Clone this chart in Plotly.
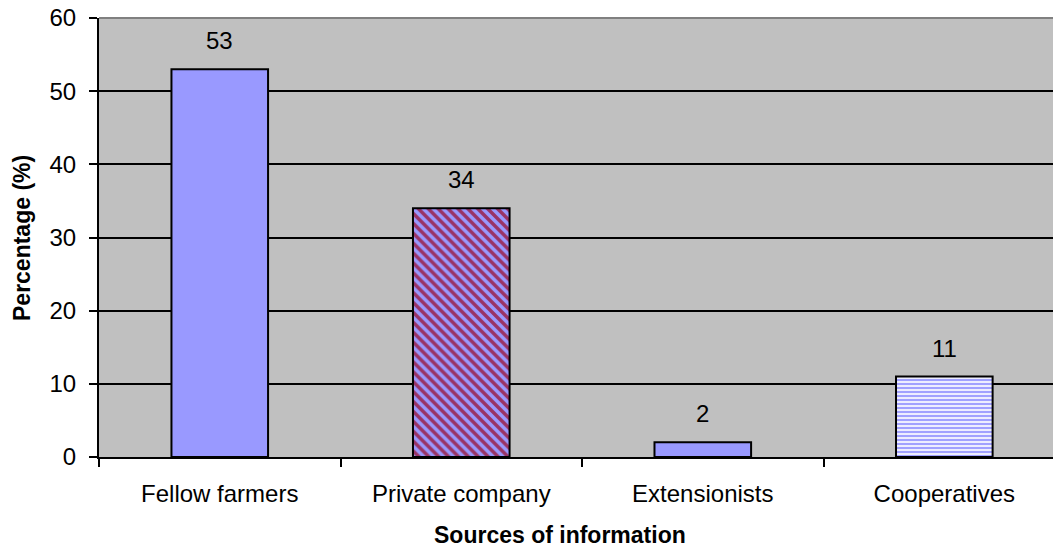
import plotly.graph_objects as go

categories = ["Fellow farmers", "Private company", "Extensionists", "Cooperatives"]
values = [53, 34, 2, 11]
labels = ["53", "34", "2", "11"]

pattern_shapes = ["", "\\", "", "-"]
pattern_fg = ["#9999FF", "#993366", "#9999FF", "#9999FF"]
pattern_bg = ["#9999FF", "#9999FF", "#9999FF", "#EEEEFF"]
pattern_size = [8, 7, 8, 4]
pattern_solidity = [0.3, 0.5, 0.3, 0.45]

FONT = "Arial, Liberation Sans, sans-serif"
FS = 24

fig = go.Figure()
fig.add_trace(go.Bar(
    x=categories,
    y=values,
    width=0.4,
    marker=dict(
        color="#9999FF",
        line=dict(color="black", width=2),
        pattern=dict(shape=pattern_shapes, fgcolor=pattern_fg, bgcolor=pattern_bg,
                     size=pattern_size, solidity=pattern_solidity, fillmode="replace"),
    ),
))

W, H = 1053, 550
l, r, t, b = 99, 0, 18, 93
pw, ph = W - l - r, H - t - b

annotations = []
for c, v, s in zip(categories, values, labels):
    annotations.append(dict(x=c, y=v, text=s, showarrow=False, yanchor="bottom",
                            yshift=13, font=dict(family=FONT, size=FS, color="black")))

annotations.append(dict(text="<b>Sources of information</b>", xref="paper", yref="paper",
                        x=(560 - l) / pw, y=-(535 - (H - b)) / ph,
                        xanchor="center", yanchor="middle", showarrow=False,
                        font=dict(family=FONT, size=FS - 1, color="black")))
annotations.append(dict(text="<b>Percentage (%)</b>", xref="paper", yref="paper",
                        x=(22 - l) / pw, y=(H - b - 238) / ph, textangle=-90,
                        xanchor="center", yanchor="middle", showarrow=False,
                        font=dict(family=FONT, size=FS - 1, color="black")))

fig.update_layout(
    width=W, height=H,
    margin=dict(l=l, r=r, t=t, b=b),
    paper_bgcolor="white",
    plot_bgcolor="#C0C0C0",
    showlegend=False,
    font=dict(family=FONT, size=FS, color="black"),
    xaxis=dict(
        type="category",
        range=[-0.5, 3.45],
        tickson="boundaries",
        ticks="outside", ticklen=8, tickcolor="black", tickwidth=2,
        showline=True, linecolor="black", linewidth=2,
        showgrid=False,
        ticklabelstandoff=14,
        tickfont=dict(family=FONT, size=FS, color="black"),
    ),
    yaxis=dict(
        range=[0, 60],
        tickvals=[0, 10, 20, 30, 40, 50, 60],
        ticks="outside", ticklen=8, tickcolor="black", tickwidth=2,
        showline=True, linecolor="black", linewidth=2,
        showgrid=True, gridcolor="black", gridwidth=1.5,
        zeroline=False,
        ticklabelstandoff=8,
        tickfont=dict(family=FONT, size=FS, color="black"),
    ),
    annotations=annotations,
    shapes=[
        dict(type="line", xref="paper", yref="paper", x0=0, x1=1, y0=1, y1=1,
             line=dict(color="#808080", width=2)),
    ],
)

fig.write_html("out.html")
